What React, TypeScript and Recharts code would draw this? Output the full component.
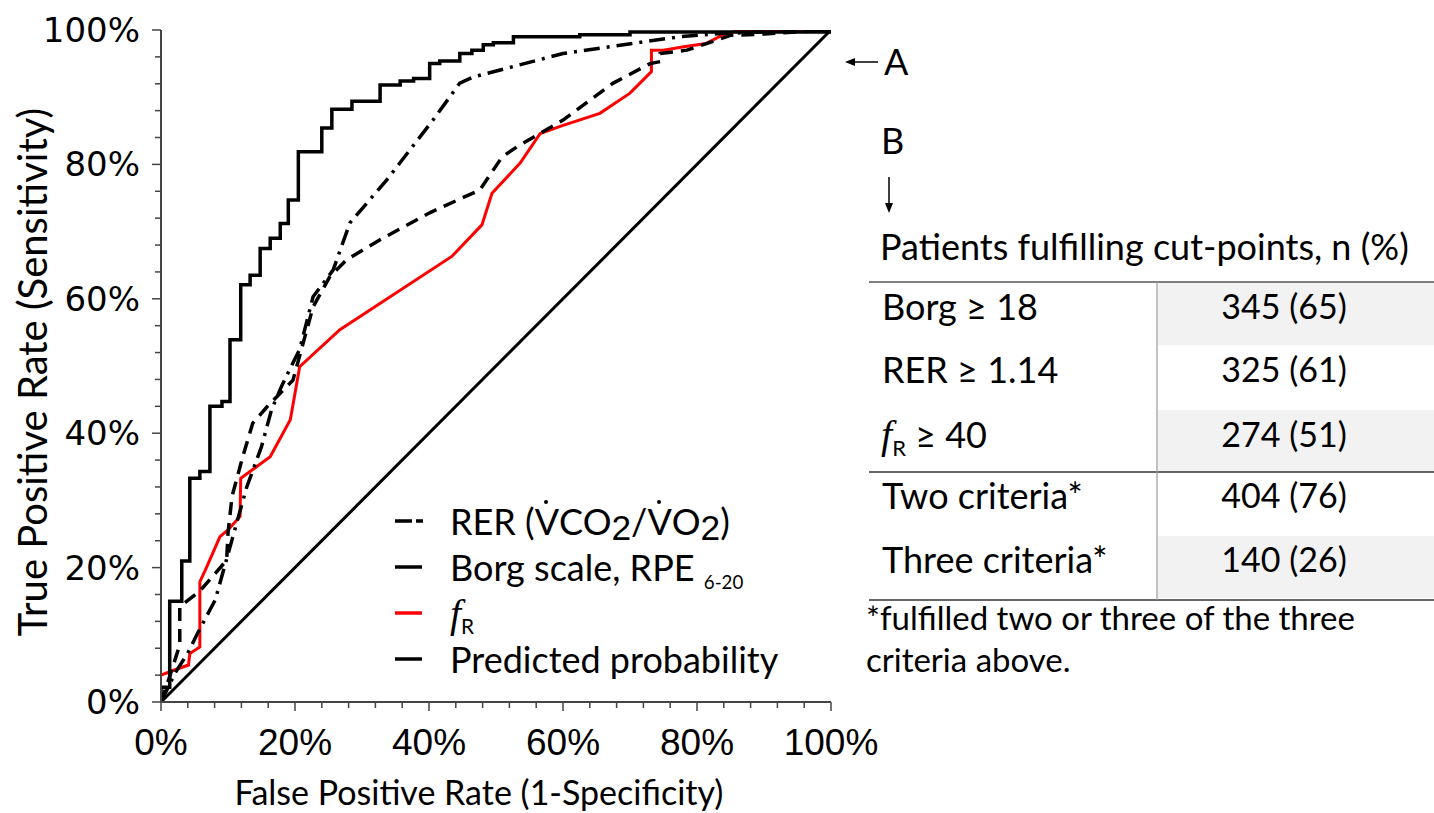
import React from 'react';
import { LineChart, Line, XAxis, YAxis, Legend, Label } from 'recharts';

// ---------- data (percent values) ----------
const rerPoints: [number, number][] = [
  [0, 0], [1.3, 3.8], [2.8, 8.5], [2.8, 14.2], [5.8, 16.5], [9.8, 21.1], [10.0, 25.1],
  [10.6, 30.6], [12.2, 36.5], [13.7, 41.5], [15.8, 43.9], [19.7, 47.9], [22.7, 58.8],
  [25.2, 63.3], [27.7, 65.8], [32.7, 68.8], [40.1, 72.8], [47.6, 76.2], [50.9, 81.1],
  [53.1, 82.6], [60.0, 86.6], [67.5, 92.1], [73.0, 95.0], [74.5, 95.3], [74.5, 96.5],
  [78.5, 97.0], [82.4, 98.3], [85.0, 99.2], [90.0, 99.4], [100, 100],
];
const borgPoints: [number, number][] = [
  [0, 0], [2.1, 4.3], [4.0, 7.3], [5.5, 10.3], [8.1, 15.2], [10.7, 24.5], [12.8, 32.0],
  [15.0, 38.0], [16.5, 43.5], [18.0, 47.0], [20.7, 52.5], [22.7, 60.3], [25.7, 64.3],
  [28.2, 71.3], [33.7, 77.7], [40.6, 86.6], [44.6, 92.1], [46.6, 93.0], [60.0, 96.5],
  [72.5, 98.3], [77.5, 99.0], [83.9, 99.5], [96.9, 99.9], [100, 100],
];
const frPoints: [number, number][] = [
  [0, 4.0], [2.1, 4.8], [4.1, 5.5], [4.3, 7.2], [5.8, 8.2], [5.8, 17.9], [6.6, 19.6],
  [8.8, 24.6], [10.0, 25.6], [11.8, 27.6], [11.9, 33.3], [16.3, 36.5], [19.3, 42.0],
  [20.7, 49.9], [26.7, 55.4], [43.4, 66.3], [47.9, 71.0], [49.4, 75.7], [53.6, 80.2],
  [56.6, 84.6], [60.0, 85.8], [65.5, 87.6], [70.0, 90.6], [73.2, 93.8], [73.2, 97.0],
  [75.0, 97.0], [78.0, 97.5], [81.4, 98.0], [83.9, 99.3], [86.4, 100], [100, 100],
];
// step corners (horizontal then vertical)
const predictedPoints: [number, number][] = [
  [0, 0], [0, 2.2], [1.3, 15], [3.1, 21], [4.3, 33.3], [5.8, 34.3], [7.3, 44], [9.1, 44.7],
  [10.3, 53.9], [11.9, 62.1], [13.3, 63.5], [14.8, 67.5], [16.3, 69], [17.8, 71.2],
  [19.0, 74.7], [20.5, 81.9], [24.0, 85.4], [25.5, 88.2], [28.5, 89.4], [32.7, 91.8],
  [35.7, 92.4], [37.7, 92.8], [40.1, 95], [41.6, 95.4], [44.6, 96.5], [46.4, 97],
  [48.1, 97.8], [49.6, 98.1], [52.6, 99], [62.5, 99.3], [70, 99.7], [100, 100],
];
const diagonalPoints: [number, number][] = [[0, 0], [100, 100]];

const axisTicks = [0, 4, 8, 12, 16, 20, 24, 28, 32, 36, 40, 44, 48, 52, 56, 60, 64, 68, 72, 76, 80, 84, 88, 92, 96, 100];
const majorTicks = [0, 20, 40, 60, 80, 100];

const tableRows = ['Borg ≥ 18', 'RER ≥ 1.14', 'fR ≥ 40', 'Two criteria*', 'Three criteria*'];
const tableValues = ['345 (65)', '325 (61)', '274 (51)', '404 (76)', '140 (26)'];
const footnoteLines = ['*fulfilled two or three of the three', 'criteria above.'];

const toRows = (pts: [number, number][]) => pts.map(([x, y]) => ({ x, y }));

// ---------- styling ----------
const AX = '#444';
const LATO = 'Lato, "Open Sans", sans-serif';
const RED = '#ff0000';

const BottomTick = (props: any) => {
  const { x, y, payload } = props;
  const major = majorTicks.includes(payload.value);
  return (
    <g>
      <line x1={x} y1={y} x2={x} y2={y + (major ? 9 : 6)} stroke={AX} strokeWidth={1.5} />
      {major && (
        <text x={x} y={y + 53} textAnchor="middle" fontFamily='"Liberation Sans", Arial, sans-serif' fontSize={37} fill="#000">
          {payload.value}%
        </text>
      )}
    </g>
  );
};
const TopTick = (props: any) => {
  const { x, y, payload } = props;
  const major = majorTicks.includes(payload.value);
  return <line x1={x} y1={y} x2={x} y2={y - (major ? 8 : 5)} stroke={AX} strokeWidth={1.5} />;
};
const LeftTick = (props: any) => {
  const { x, y, payload } = props;
  const major = majorTicks.includes(payload.value);
  return (
    <g>
      <line x1={x} y1={y} x2={x - (major ? 9 : 6)} y2={y} stroke={AX} strokeWidth={1.5} />
      {major && (
        <text x={x - 21} y={y + 12} textAnchor="end" fontFamily='"DejaVu Sans", Verdana, sans-serif' fontSize={34} fill="#000">
          {payload.value}%
        </text>
      )}
    </g>
  );
};
const RightTick = (props: any) => {
  const { x, y, payload } = props;
  const major = majorTicks.includes(payload.value);
  return <line x1={x} y1={y} x2={x + (major ? 8 : 5)} y2={y} stroke={AX} strokeWidth={1.5} />;
};

// V with a dot accent (drawn as a small round mark above the letter)
const VDot = () => (
  <span style={{ position: 'relative', display: 'inline-block' }}>
    V
    <span
      style={{
        position: 'absolute',
        left: '0.27em',
        top: '0.06em',
        width: 4,
        height: 4,
        borderRadius: 2,
        background: '#000',
      }}
    />
  </span>
);
const Sub2 = () => (
  <span style={{ fontFamily: '"Liberation Sans", Arial, sans-serif', fontSize: '0.98em', position: 'relative', top: '0.15em' }}>2</span>
);

const legendRows = [
  {
    key: 'rer',
    icon: <line x1={0} y1={23} x2={28} y2={23} stroke="#000" strokeWidth={3.5} strokeDasharray="17 4 7 50" />,
    label: (
      <span>
        RER (<VDot />CO<Sub2 />/<VDot />O<Sub2 />)
      </span>
    ),
  },
  {
    key: 'borg',
    icon: <line x1={0} y1={23} x2={27} y2={23} stroke="#000" strokeWidth={3.5} />,
    label: (
      <span>
        Borg scale, RPE <span style={{ fontSize: '0.52em', position: 'relative', top: '0.42em' }}>6-20</span>
      </span>
    ),
  },
  {
    key: 'fr',
    icon: <line x1={0} y1={23} x2={27} y2={23} stroke={RED} strokeWidth={3.5} />,
    label: (
      <span>
        <i style={{ fontFamily: '"Liberation Serif", serif', fontSize: '1.1em' }}>f</i>
        <span style={{ fontSize: '0.58em', position: 'relative', top: '0.32em' }}>R</span>
      </span>
    ),
  },
  {
    key: 'pred',
    icon: <line x1={0} y1={23} x2={27} y2={23} stroke="#000" strokeWidth={3.5} />,
    label: <span>Predicted probability</span>,
  },
];

const renderLegend = () => (
  <div style={{ fontFamily: LATO, fontSize: 36, color: '#000' }}>
    {legendRows.map((r) => (
      <div key={r.key} style={{ position: 'relative', height: 46, lineHeight: '46px', whiteSpace: 'nowrap' }}>
        <svg width={30} height={46} style={{ position: 'absolute', left: 0, top: 0 }}>
          {r.icon}
        </svg>
        <div style={{ position: 'absolute', left: 55, top: 0 }}>{r.label}</div>
      </div>
    ))}
  </div>
);

const XTitle = (props: any) => {
  const vb = props.viewBox || { x: 161, y: 702, width: 670, height: 111 };
  return (
    <text x={vb.x + vb.width / 2 - 17} y={805} textAnchor="middle" fontFamily={LATO} fontSize={34} fill="#000">
      False Positive Rate (1-Specificity)
    </text>
  );
};
const YTitle = (props: any) => {
  const vb = props.viewBox || { x: 0, y: 30, width: 161, height: 672 };
  const cy = vb.y + vb.height / 2 + 6;
  return (
    <text transform={`translate(47, ${cy}) rotate(-90)`} textAnchor="middle" fontFamily={LATO} fontSize={40} fill="#000">
      True Positive Rate (Sensitivity)
    </text>
  );
};

const rowCenters = [307, 370, 435, 496, 560];
const grayBands = [[282, 345], [410, 472], [536, 598]];

export default function App() {
  return (
    <div style={{ position: 'relative', width: 1434, height: 813, background: '#fff', overflow: 'hidden' }}>
      <style>{'body{margin:0;background:#fff;}'}</style>
      <div style={{ position: 'absolute', left: 0, top: 0 }}>
        <LineChart width={900} height={813} margin={{ top: 30, right: 69, left: 0, bottom: 0 }}>
          <XAxis
            xAxisId={0}
            type="number"
            dataKey="x"
            domain={[0, 100]}
            ticks={axisTicks}
            interval={0}
            tickSize={0}
            tickMargin={0}
            tickLine={false}
            tick={<BottomTick />}
            axisLine={{ stroke: AX, strokeWidth: 2 }}
            height={111}
            allowDataOverflow
          >
            <Label content={<XTitle />} />
          </XAxis>
          <XAxis
            xAxisId="top"
            orientation="top"
            type="number"
            dataKey="x"
            domain={[0, 100]}
            ticks={axisTicks}
            interval={0}
            tickSize={0}
            tickMargin={0}
            tickLine={false}
            tick={<TopTick />}
            axisLine={{ stroke: AX, strokeWidth: 2 }}
            height={0}
          />
          <YAxis
            yAxisId={0}
            type="number"
            dataKey="y"
            domain={[0, 100]}
            ticks={axisTicks}
            interval={0}
            tickSize={0}
            tickMargin={0}
            tickLine={false}
            tick={<LeftTick />}
            axisLine={{ stroke: AX, strokeWidth: 2 }}
            width={161}
            allowDataOverflow
          >
            <Label content={<YTitle />} />
          </YAxis>
          <YAxis
            yAxisId="right"
            orientation="right"
            type="number"
            dataKey="y"
            domain={[0, 100]}
            ticks={axisTicks}
            interval={0}
            tickSize={0}
            tickMargin={0}
            tickLine={false}
            tick={<RightTick />}
            axisLine={{ stroke: AX, strokeWidth: 2 }}
            width={0}
          />
          <Legend
            content={renderLegend}
            layout="vertical"
            align="center"
            verticalAlign="middle"
            wrapperStyle={{ left: 395, top: 498, width: 420, height: 184 }}
          />
          <Line data={toRows(diagonalPoints)} dataKey="y" type="linear" stroke="#000" strokeWidth={3} dot={false} isAnimationActive={false} legendType="none" />
          <Line data={toRows(frPoints)} dataKey="y" type="linear" stroke={RED} strokeWidth={3} dot={false} isAnimationActive={false} />
          <Line data={toRows(rerPoints)} dataKey="y" type="linear" stroke="#000" strokeWidth={3.5} strokeDasharray="13 8" dot={false} isAnimationActive={false} />
          <Line data={toRows(borgPoints)} dataKey="y" type="linear" stroke="#000" strokeWidth={3.5} strokeDasharray="16 7 3 7" dot={false} isAnimationActive={false} />
          <Line data={toRows(predictedPoints)} dataKey="y" type="stepAfter" stroke="#000" strokeWidth={3.5} dot={false} isAnimationActive={false} />
        </LineChart>
      </div>

      <svg width={1434} height={813} style={{ position: 'absolute', left: 0, top: 0, pointerEvents: 'none' }}>
        <g fontFamily={LATO} fontSize={36} fill="#000">
          {/* A annotation */}
          <line x1={852} y1={62} x2={878} y2={62} stroke="#000" strokeWidth={1.5} />
          <polygon points="845,62 855,58 855,66" fill="#000" />
          <text x={884} y={75}>A</text>
          {/* B annotation */}
          <text x={881} y={154}>B</text>
          <line x1={889} y1={177} x2={889} y2={204} stroke="#000" strokeWidth={1.5} />
          <polygon points="889,213 885,203 893,203" fill="#000" />
          <text x={880} y={260}>Patients fulfilling cut-points, n (%)</text>

          {grayBands.map(([a, b], i) => (
            <rect key={i} x={1158} y={a} width={276} height={b - a} fill="#f2f2f2" />
          ))}
          <line x1={869} y1={282} x2={1434} y2={282} stroke="#555" strokeWidth={1.5} />
          <line x1={869} y1={472} x2={1434} y2={472} stroke="#333" strokeWidth={1.5} />
          <line x1={869} y1={600} x2={1434} y2={600} stroke="#333" strokeWidth={1.5} />
          <line x1={1157} y1={282} x2={1157} y2={600} stroke="#999" strokeWidth={1.2} />

          {tableRows.map((label, i) =>
            label.startsWith('fR') ? (
              <text key={label} x={881} y={rowCenters[i] + 13}>
                <tspan fontFamily='"Liberation Serif", serif' fontStyle="italic" fontSize={40}>f</tspan>
                <tspan fontSize={22} dy={8}>R</tspan>
                <tspan dy={-8}>{label.slice(2)}</tspan>
              </text>
            ) : (
              <text key={label} x={882} y={rowCenters[i] + 13}>{label}</text>
            )
          )}
          {tableValues.map((v, i) => (
            <text key={v} x={1284} y={rowCenters[i] + 12} textAnchor="middle" fontSize={34}>{v}</text>
          ))}
          <text x={866} y={630} fontSize={33}>{footnoteLines[0]}</text>
          <text x={866} y={672} fontSize={33}>{footnoteLines[1]}</text>
        </g>
      </svg>
    </div>
  );
}
